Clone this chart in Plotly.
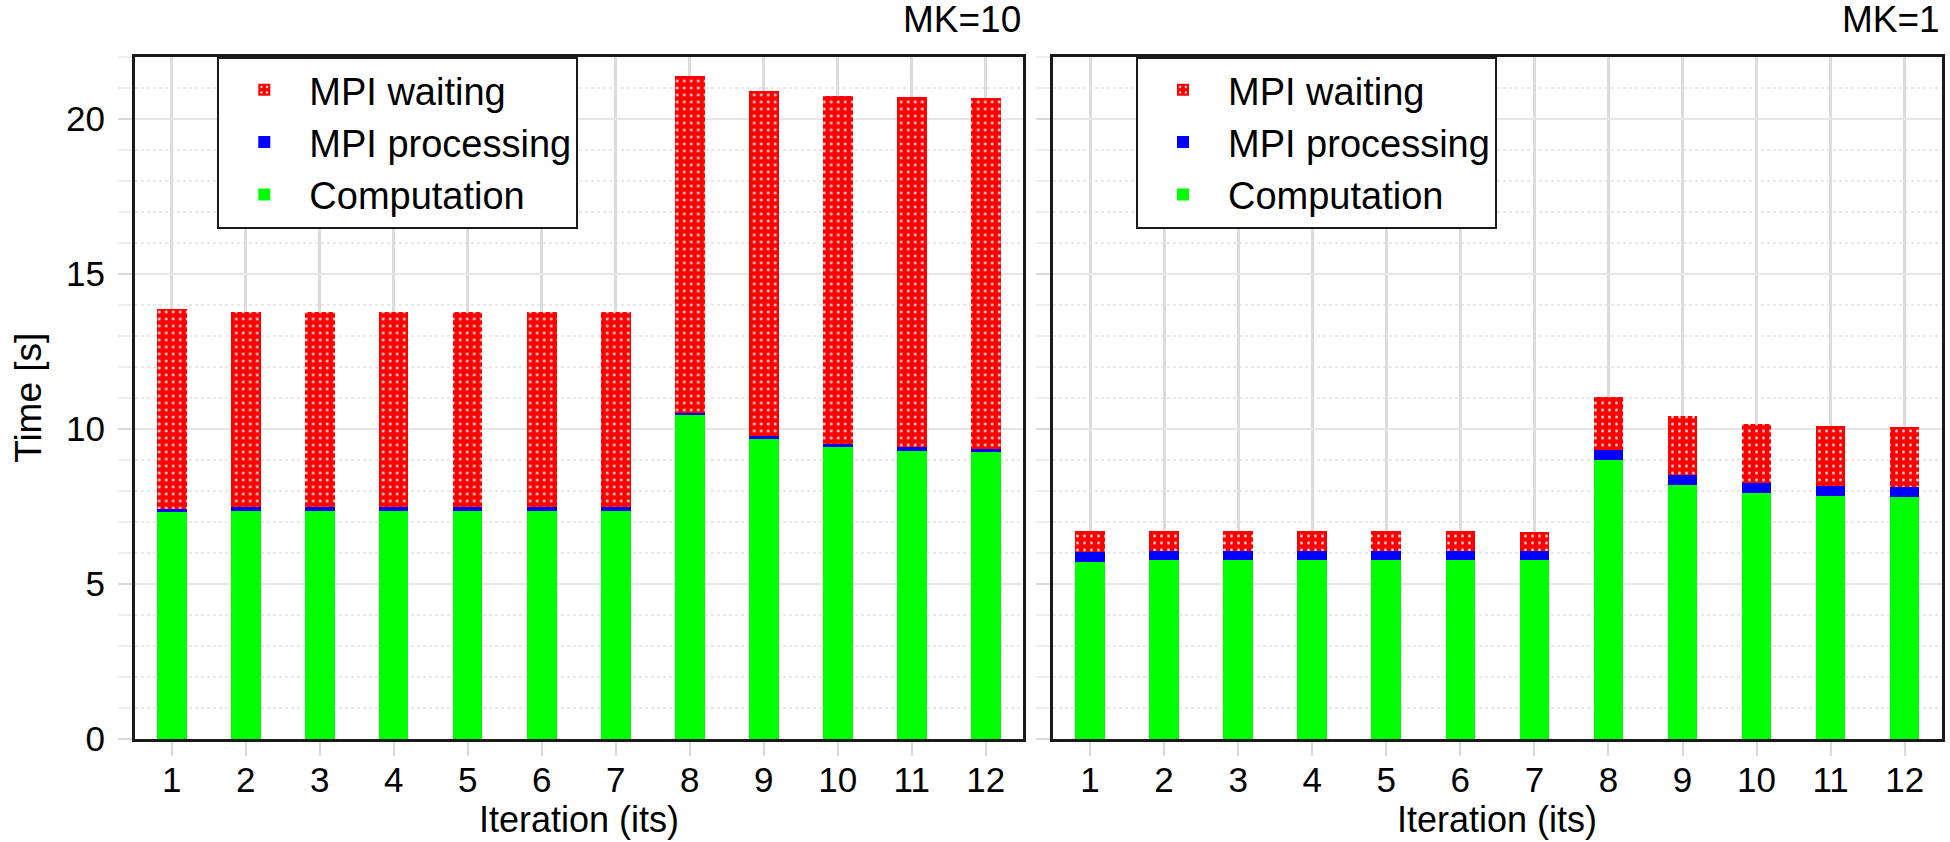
import plotly.graph_objects as go

iterations = [1, 2, 3, 4, 5, 6, 7, 8, 9, 10, 11, 12]
tick_labels = ["1", "2", "3", "4", "5", "6", "7", "8", "9", "10", "11", "12"]

# MK=10 (left panel)
mk10_computation = [7.31, 7.36, 7.36, 7.36, 7.36, 7.36, 7.36, 10.43, 9.67, 9.40, 9.29, 9.26]
mk10_processing = [0.10, 0.11, 0.11, 0.11, 0.11, 0.11, 0.11, 0.09, 0.09, 0.10, 0.11, 0.09]
mk10_waiting = [6.44, 6.30, 6.30, 6.30, 6.30, 6.30, 6.28, 10.85, 11.12, 11.22, 11.29, 11.32]

# MK=1 (right panel)
mk1_computation = [5.71, 5.76, 5.76, 5.76, 5.76, 5.76, 5.76, 8.99, 8.19, 7.93, 7.83, 7.79]
mk1_processing = [0.31, 0.30, 0.30, 0.30, 0.30, 0.30, 0.30, 0.32, 0.32, 0.31, 0.32, 0.32]
mk1_waiting = [0.69, 0.65, 0.65, 0.65, 0.65, 0.65, 0.61, 1.72, 1.90, 1.91, 1.95, 1.94]

series_names = ["Computation", "MPI processing", "MPI waiting"]
panel_titles = ["MK=10", "MK=1"]
x_title = "Iteration (its)"
y_title = "Time [s]"

FONT = "Liberation Sans, Arial, Helvetica, sans-serif"
GREEN = "#00ff00"
BLUE = "#0000ff"
RED = "#ff0000"

fig = go.Figure()

panels = [
    ("x", "y", "legend", [mk10_computation, mk10_processing, mk10_waiting]),
    ("x2", "y2", "legend2", [mk1_computation, mk1_processing, mk1_waiting]),
]

for xa, ya, lg, (comp, proc, wait) in panels:
    fig.add_trace(go.Bar(
        x=iterations, y=comp, name=series_names[0], xaxis=xa, yaxis=ya, legend=lg,
        width=0.4, marker=dict(color=GREEN, line=dict(width=0)),
    ))
    fig.add_trace(go.Bar(
        x=iterations, y=proc, name=series_names[1], xaxis=xa, yaxis=ya, legend=lg,
        width=0.4, marker=dict(color=BLUE, line=dict(width=0)),
    ))
    fig.add_trace(go.Bar(
        x=iterations, y=wait, name=series_names[2], xaxis=xa, yaxis=ya, legend=lg,
        width=0.4,
        marker=dict(color=RED, line=dict(width=0),
                    pattern=dict(shape=".", fgcolor="white", bgcolor=RED,
                                 size=7, solidity=0.12, fillmode="replace")),
    ))

W, H = 1950, 842
left_dom = [134.7 / W, 1022.7 / W]
right_dom = [1053.0 / W, 1941.7 / W]
y_dom = [(H - 739.0) / H, (H - 56.5) / H]

axis_common = dict(
    showline=True, linecolor="#1a1a1a", linewidth=2.5, mirror=True,
    ticks="outside", ticklen=14, tickwidth=2, tickcolor="#d9d9d9",
    tickfont=dict(family=FONT, size=35, color="black"),
    zeroline=False, automargin=False,
)

x_common = dict(
    axis_common, range=[0.5, 12.5], tickmode="array", tickvals=iterations,
    ticktext=tick_labels, showgrid=True, gridcolor="#dcdcdc", gridwidth=3,
    ticklabelstandoff=-6,
)

y_common = dict(
    axis_common, range=[0, 22], tick0=0, dtick=5, showgrid=True,
    gridcolor="#e6e6e6", gridwidth=2,
    minor=dict(dtick=1, showgrid=True, gridcolor="#e8e8e8", gridwidth=2, griddash="dot",
               ticks="outside", ticklen=14, tickcolor="#eeeeee", tickwidth=2),
)

legend_common = dict(
    y=1 - 56.5 / H, xanchor="left", yanchor="top",
    bgcolor="white", bordercolor="#1a1a1a", borderwidth=2,
    font=dict(family=FONT, size=38, color="black"), itemwidth=80,
    traceorder="reversed",
)

fig.update_layout(
    width=W, height=H,
    margin=dict(l=0, r=0, t=0, b=0, autoexpand=False),
    paper_bgcolor="white", plot_bgcolor="white",
    barmode="stack", bargap=0.6,
    font=dict(family=FONT, color="black"),
    xaxis=dict(x_common, domain=left_dom, anchor="y"),
    xaxis2=dict(x_common, domain=right_dom, anchor="y2"),
    yaxis=dict(y_common, domain=y_dom, anchor="x", ticklabelstandoff=6,
               title=dict(text=y_title, font=dict(family=FONT, size=37, color="black"), standoff=14)),
    yaxis2=dict(y_common, domain=y_dom, anchor="x2", showticklabels=False),
    legend=dict(legend_common, x=217.3 / W),
    legend2=dict(legend_common, x=1136.0 / W),
)

for i, (xa, ya) in enumerate([("x", "y"), ("x2", "y2")]):
    fig.add_annotation(
        text=panel_titles[i], xref=f"{xa} domain", yref=f"{ya} domain",
        x=1, y=1, xanchor="right", yanchor="bottom", showarrow=False,
        font=dict(family=FONT, size=37, color="black"), yshift=14,
    )
    fig.add_annotation(
        text=x_title, xref=f"{xa} domain", yref=f"{ya} domain",
        x=0.5, y=0, xanchor="center", yanchor="top", showarrow=False,
        font=dict(family=FONT, size=36, color="black"), yshift=-58,
    )

fig.write_html("out.html")
